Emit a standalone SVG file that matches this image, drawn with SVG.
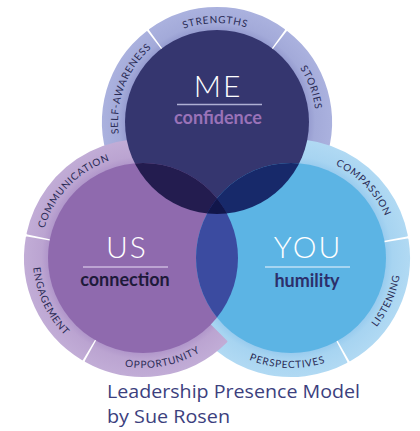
<svg xmlns="http://www.w3.org/2000/svg" width="420" height="431" viewBox="0 0 420 431">
<style>
.lbl{font-family:Lato,"Open Sans","DejaVu Sans",sans-serif;font-size:10px;letter-spacing:0.8px;fill:#2a2b55}
.big{font-family:Lato,"Open Sans",sans-serif;font-weight:300;font-size:30px;fill:#ffffff;letter-spacing:2px;text-anchor:middle}
.sub{font-family:Lato,"Open Sans",sans-serif;font-weight:700;font-size:18px;text-anchor:middle}
.cap{font-family:"Open Sans","Noto Sans",sans-serif;font-size:18px;fill:#3c3f7e}
.meR{fill:url(#gME);stroke:url(#gME);stroke-width:2;stroke-linejoin:round}
.usR{fill:url(#gUS);stroke:url(#gUS);stroke-width:2;stroke-linejoin:round}
.yoR{fill:url(#gYOU);stroke:url(#gYOU);stroke-width:2;stroke-linejoin:round}
</style>
<defs>
<radialGradient id="gME" gradientUnits="userSpaceOnUse" cx="217" cy="122" r="114">
<stop offset="0.80" stop-color="#959bcf"/><stop offset="0.86" stop-color="#a3aad9"/><stop offset="1" stop-color="#aab1de"/>
</radialGradient>
<radialGradient id="gUS" gradientUnits="userSpaceOnUse" cx="143" cy="258" r="118">
<stop offset="0.80" stop-color="#b096ca"/><stop offset="0.86" stop-color="#bba4d1"/><stop offset="1" stop-color="#c1acd6"/>
</radialGradient>
<radialGradient id="gYOU" gradientUnits="userSpaceOnUse" cx="291" cy="258" r="118">
<stop offset="0.80" stop-color="#98cbee"/><stop offset="0.86" stop-color="#a7d4f1"/><stop offset="1" stop-color="#b0d9f3"/>
</radialGradient>
<clipPath id="cpME"><circle cx="217" cy="122" r="92"/></clipPath>
<clipPath id="cpUS"><circle cx="143" cy="258" r="95"/></clipPath>
<clipPath id="cpYOU"><circle cx="291" cy="258" r="95"/></clipPath>
<path id="pSelf" d="M140.07,184.30 A99,99 0 0 1 201.51,24.22"/>
<path id="pStr" d="M130.41,74.00 A99,99 0 0 1 301.86,71.01"/>
<path id="pSto" d="M234.19,24.50 A99,99 0 0 1 292.84,185.64"/>
<path id="pCom" d="M43.99,286.39 A103,103 0 0 1 167.92,158.06"/>
<path id="pEng" d="M52.89,194.91 A110,110 0 0 0 133.41,367.58"/>
<path id="pOpp" d="M59.98,330.17 A110,110 0 0 0 247.01,293.81"/>
<path id="pCmp" d="M266.08,158.06 A103,103 0 0 1 390.01,286.39"/>
<path id="pLis" d="M302.50,367.40 A110,110 0 0 0 379.99,193.34"/>
<path id="pPer" d="M193.88,309.64 A110,110 0 0 0 384.28,316.29"/>
</defs>
<rect width="420" height="431" fill="#ffffff"/>

<g id="ring-me">
<path class="meR" d="M109.87,160.99 A114,114 0 0 1 146.81,32.17 L160.36,49.50 A92,92 0 0 0 130.55,153.46 Z"/>
<path class="meR" d="M149.99,29.77 A114,114 0 0 1 284.01,29.77 L271.08,47.57 A92,92 0 0 0 162.92,47.57 Z"/>
<path class="meR" d="M287.19,32.17 A114,114 0 0 1 324.13,160.99 L303.45,153.46 A92,92 0 0 0 273.64,49.50 Z"/>
</g>
<g id="ring-you">
<path class="yoR" d="M241.13,151.06 A118,118 0 0 1 406.83,235.49 L384.25,239.87 A95,95 0 0 0 250.85,171.90 Z"/>
<path class="yoR" d="M407.55,239.54 A118,118 0 0 1 350,360.19 L338.5,340.27 A95,95 0 0 0 384.83,243.14 Z"/>
<path class="yoR" d="M346.40,362.18 A118,118 0 0 1 188.81,317 L208.73,305.5 A95,95 0 0 0 335.60,341.88 Z"/>
</g>
<g id="ring-us">
<path class="usR" d="M27.58,233.47 A118,118 0 0 1 192.87,151.06 L183.15,171.90 A95,95 0 0 0 50.08,238.25 Z"/>
<path class="usR" d="M82.23,359.15 A118,118 0 0 1 26.79,237.51 L49.44,241.50 A95,95 0 0 0 94.07,339.43 Z"/>
<path class="usR" d="M226.44,341.44 A118,118 0 0 1 85.79,361.20 L96.94,341.09 A95,95 0 0 0 210.17,325.17 Z"/>
</g>

<g id="labels">
<text class="lbl"><textPath href="#pSelf" startOffset="50%" text-anchor="middle">SELF-AWARENESS</textPath></text>
<text class="lbl"><textPath href="#pStr" startOffset="50%" text-anchor="middle">STRENGTHS</textPath></text>
<text class="lbl"><textPath href="#pSto" startOffset="50%" text-anchor="middle">STORIES</textPath></text>
<text class="lbl"><textPath href="#pCom" startOffset="50%" text-anchor="middle">COMMUNICATION</textPath></text>
<text class="lbl"><textPath href="#pEng" startOffset="50%" text-anchor="middle">ENGAGEMENT</textPath></text>
<text class="lbl"><textPath href="#pOpp" startOffset="50%" text-anchor="middle">OPPORTUNITY</textPath></text>
<text class="lbl"><textPath href="#pCmp" startOffset="50%" text-anchor="middle">COMPASSION</textPath></text>
<text class="lbl"><textPath href="#pLis" startOffset="50%" text-anchor="middle">LISTENING</textPath></text>
<text class="lbl"><textPath href="#pPer" startOffset="50%" text-anchor="middle">PERSPECTIVES</textPath></text>
</g>

<g id="circles">
<circle cx="217" cy="122" r="92" fill="#35366f"/>
<circle cx="143" cy="258" r="95" fill="#8f6aae"/>
<circle cx="291" cy="258" r="95" fill="#5cb4e4"/>
<circle cx="143" cy="258" r="95" fill="#231c4f" clip-path="url(#cpME)"/>
<circle cx="291" cy="258" r="95" fill="#17296a" clip-path="url(#cpME)"/>
<circle cx="291" cy="258" r="95" fill="#3b4ba0" clip-path="url(#cpUS)"/>
<g clip-path="url(#cpME)"><circle cx="291" cy="258" r="95" fill="#11164a" clip-path="url(#cpUS)"/></g>
</g>

<g id="node-me">
<text class="big" x="218" y="97">ME</text>
<line x1="177" y1="104.5" x2="262" y2="104.5" stroke="#aeb0d4" stroke-width="1.5"/>
<text class="sub" x="218" y="124" fill="#9a72b8">confidence</text>
</g>
<g id="node-us">
<text class="big" x="127" y="258">US</text>
<line x1="83" y1="267" x2="168" y2="267" stroke="#cbb8de" stroke-width="1.5"/>
<text class="sub" x="125" y="286" fill="#1e1a3a">connection</text>
</g>
<g id="node-you">
<text class="big" x="308" y="258">YOU</text>
<line x1="265" y1="267" x2="350" y2="267" stroke="#bfe1f6" stroke-width="1.5"/>
<text class="sub" x="307" y="287" fill="#2c2f6b">humility</text>
</g>

<g id="caption">
<text class="cap" x="107" y="398" textLength="253" lengthAdjust="spacingAndGlyphs">Leadership Presence Model</text>
<text class="cap" x="107" y="423" textLength="123" lengthAdjust="spacingAndGlyphs">by Sue Rosen</text>
</g>
</svg>
